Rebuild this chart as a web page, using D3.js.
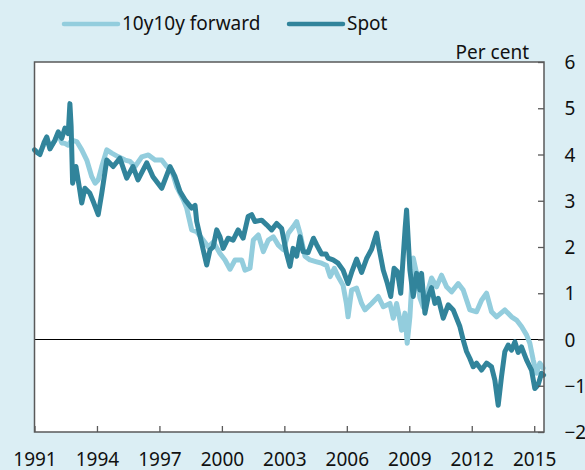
<!DOCTYPE html>
<html>
<head>
<meta charset="utf-8">
<script src="https://cdn.jsdelivr.net/npm/d3@7"></script>
<style>
  body { margin: 0; background: #dbeef4; }
  svg { display: block; font-family: "Noto Sans", sans-serif; }
</style>
</head>
<body>
<script>
// year values, [decimal year, per cent]
var forward = [
  [1991.00, 4.10], [1991.26, 4.02], [1991.59, 4.35], [1991.74, 4.15], [1991.98, 4.30],
  [1992.14, 4.45], [1992.31, 4.25], [1992.46, 4.24], [1992.62, 4.20], [1992.79, 4.31],
  [1993.03, 4.28], [1993.27, 4.10], [1993.51, 3.88], [1993.75, 3.52], [1993.91, 3.38],
  [1994.06, 3.45], [1994.23, 3.74], [1994.47, 4.10], [1994.71, 4.03], [1995.03, 3.95],
  [1995.35, 3.88], [1995.59, 3.85], [1995.83, 3.74], [1996.15, 3.95], [1996.47, 3.99],
  [1996.79, 3.88], [1997.11, 3.88], [1997.35, 3.74], [1997.59, 3.66], [1997.83, 3.30],
  [1998.15, 3.02], [1998.31, 2.84], [1998.55, 2.37], [1998.79, 2.33], [1999.10, 2.15],
  [1999.35, 2.00], [1999.59, 2.11], [1999.91, 1.86], [2000.15, 1.72], [2000.39, 1.52],
  [2000.63, 1.72], [2000.95, 1.72], [2001.11, 1.50], [2001.35, 1.54], [2001.51, 2.15],
  [2001.75, 2.26], [2001.99, 1.90], [2002.23, 2.15], [2002.47, 2.22], [2002.71, 2.04],
  [2002.95, 1.94], [2003.19, 2.30], [2003.43, 2.44], [2003.59, 2.55], [2003.75, 2.30],
  [2003.99, 1.80], [2004.23, 1.72], [2004.55, 1.68], [2004.79, 1.65], [2005.03, 1.60],
  [2005.20, 1.36], [2005.40, 1.54], [2005.58, 1.36], [2005.82, 1.17], [2005.98, 0.78],
  [2006.06, 0.49], [2006.23, 1.07], [2006.47, 1.11], [2006.71, 0.78], [2006.87, 0.64],
  [2007.19, 0.78], [2007.51, 0.93], [2007.75, 0.71], [2008.07, 0.78], [2008.23, 0.46],
  [2008.39, 0.78], [2008.55, 0.42], [2008.63, 0.20], [2008.79, 0.57], [2008.90, -0.08],
  [2009.03, 0.49], [2009.19, 1.76], [2009.35, 1.43], [2009.51, 0.90], [2009.67, 0.70],
  [2009.83, 0.95], [2010.07, 1.33], [2010.31, 1.14], [2010.55, 1.39], [2010.79, 1.14],
  [2011.03, 1.03], [2011.35, 1.21], [2011.59, 1.07], [2011.91, 0.64], [2012.23, 0.60],
  [2012.47, 0.85], [2012.71, 1.00], [2012.95, 0.60], [2013.19, 0.49], [2013.59, 0.64],
  [2013.91, 0.49], [2014.15, 0.42], [2014.39, 0.28], [2014.63, 0.10], [2014.79, -0.08],
  [2014.95, -0.44], [2015.11, -0.73], [2015.27, -0.51], [2015.43, -0.62]
];

var spot = [
  [1991.00, 4.10], [1991.10, 4.05], [1991.26, 4.00], [1991.45, 4.25], [1991.59, 4.38],
  [1991.74, 4.12], [1991.98, 4.31], [1992.14, 4.49], [1992.31, 4.35], [1992.46, 4.57],
  [1992.62, 4.45], [1992.70, 5.10], [1992.76, 4.60], [1992.83, 3.38], [1992.99, 3.74],
  [1993.15, 3.30], [1993.27, 2.95], [1993.42, 3.27], [1993.66, 3.16], [1993.85, 2.95],
  [1994.06, 2.70], [1994.23, 3.16], [1994.47, 3.88], [1994.78, 3.74], [1995.10, 3.92],
  [1995.43, 3.49], [1995.73, 3.74], [1995.97, 3.45], [1996.39, 3.82], [1996.69, 3.52],
  [1997.11, 3.27], [1997.51, 3.74], [1997.75, 3.52], [1997.99, 3.20], [1998.23, 3.02],
  [1998.55, 2.84], [1998.71, 2.90], [1998.79, 2.55], [1999.03, 2.08], [1999.27, 1.61],
  [1999.43, 1.94], [1999.58, 2.00], [1999.75, 2.37], [1999.91, 2.22], [2000.06, 1.97],
  [2000.30, 2.19], [2000.54, 2.15], [2000.78, 2.37], [2001.02, 2.19], [2001.26, 2.66],
  [2001.43, 2.70], [2001.59, 2.55], [2001.91, 2.58], [2002.15, 2.48], [2002.39, 2.37],
  [2002.63, 2.51], [2002.87, 2.40], [2003.11, 1.85], [2003.27, 1.58], [2003.42, 1.97],
  [2003.59, 1.80], [2003.75, 2.22], [2003.90, 1.90], [2004.14, 1.88], [2004.40, 2.19],
  [2004.55, 2.05], [2004.79, 1.85], [2005.00, 1.85], [2005.10, 1.76], [2005.34, 1.72],
  [2005.58, 1.65], [2005.82, 1.50], [2006.06, 1.21], [2006.23, 1.45], [2006.47, 1.74],
  [2006.71, 1.45], [2006.95, 1.75], [2007.19, 1.95], [2007.43, 2.30], [2007.55, 1.97],
  [2007.75, 1.50], [2007.95, 1.21], [2008.11, 0.93], [2008.27, 1.54], [2008.43, 1.47],
  [2008.59, 1.00], [2008.80, 2.40], [2008.87, 2.80], [2008.95, 2.15], [2009.03, 1.50],
  [2009.19, 0.93], [2009.35, 1.43], [2009.51, 1.07], [2009.59, 1.43], [2009.75, 0.57],
  [2009.91, 0.93], [2010.07, 1.12], [2010.23, 0.78], [2010.39, 0.89], [2010.63, 0.46],
  [2010.87, 0.75], [2011.11, 0.64], [2011.43, 0.28], [2011.59, -0.01], [2011.75, -0.26],
  [2011.91, -0.41], [2012.07, -0.59], [2012.23, -0.51], [2012.47, -0.66], [2012.71, -0.51],
  [2012.95, -0.59], [2013.11, -0.88], [2013.27, -1.42], [2013.43, -0.80], [2013.59, -0.26],
  [2013.75, -0.12], [2013.91, -0.23], [2014.07, -0.05], [2014.23, -0.28], [2014.39, -0.16],
  [2014.63, -0.44], [2014.87, -0.66], [2015.03, -1.06], [2015.19, -0.98], [2015.35, -0.73],
  [2015.45, -0.77]
];

var yearTicks = [1991, 1994, 1997, 2000, 2003, 2006, 2009, 2012, 2015];
var valueTicks = [6, 5, 4, 3, 2, 1, 0, -1, -2];
var seriesNames = ["10y10y forward", "Spot"];
var seriesColors = ["#93cddd", "#31849b"];

var width = 585, height = 470;
var plotLeft = 34.5, plotRight = 544, plotTop = 62, plotBottom = 432;

var svg = d3.select("body").append("svg")
  .attr("width", width)
  .attr("height", height);

svg.append("rect")
  .attr("width", width).attr("height", height)
  .attr("fill", "#dbeef4");

var x = d3.scaleLinear().domain([1991, 2015.47]).range([plotLeft, plotRight]);
var y = d3.scaleLinear().domain([-2, 6]).range([plotBottom, plotTop]);

// plot area
svg.append("rect")
  .attr("x", plotLeft).attr("y", plotTop)
  .attr("width", plotRight - plotLeft).attr("height", plotBottom - plotTop)
  .attr("fill", "white");

// zero line
svg.append("line")
  .attr("x1", plotLeft).attr("x2", plotRight)
  .attr("y1", y(0)).attr("y2", y(0))
  .attr("stroke", "#000").attr("stroke-width", 1.2);

var line = d3.line()
  .x(function(d) { return x(d[0]); })
  .y(function(d) { return y(d[1]); });

[forward, spot].forEach(function(s, i) {
  svg.append("path")
    .datum(s)
    .attr("d", line)
    .attr("fill", "none")
    .attr("stroke", seriesColors[i])
    .attr("stroke-width", 5)
    .attr("stroke-linejoin", "round")
    .attr("stroke-linecap", "round");
});

// axes
var xAxis = d3.axisBottom(x).tickValues(yearTicks).tickSize(-6).tickFormat(d3.format("d"));
var gx = svg.append("g").attr("transform", "translate(0," + plotBottom + ")").call(xAxis);
gx.select(".domain").remove();
gx.selectAll(".tick line").attr("stroke", "#595959").attr("stroke-width", 1.3);
gx.selectAll(".tick text")
  .attr("y", 27).attr("dy", "0.35em")
  .attr("fill", "#111")
  .style("font-size", "19px")
  .style("font-family", "Noto Sans, sans-serif");

var yAxis = d3.axisRight(y).tickValues(valueTicks).tickSize(-6).tickFormat(d3.format("d"));
var gy = svg.append("g").attr("transform", "translate(" + plotRight + ",0)").call(yAxis);
gy.select(".domain").remove();
gy.selectAll(".tick line").attr("stroke", "#595959").attr("stroke-width", 1.3);
gy.selectAll(".tick text")
  .attr("x", 20.5).attr("dy", "0.35em")
  .attr("text-anchor", "start")
  .attr("fill", "#111")
  .style("font-size", "19px")
  .style("font-family", "Noto Sans, sans-serif");

// border
svg.append("rect")
  .attr("x", plotLeft).attr("y", plotTop)
  .attr("width", plotRight - plotLeft).attr("height", plotBottom - plotTop)
  .attr("fill", "none")
  .attr("stroke", "#595959")
  .attr("stroke-width", 1.5);

svg.append("text")
  .attr("x", 529).attr("y", 59)
  .attr("text-anchor", "end")
  .attr("fill", "#111")
  .style("font-size", "19px")
  .text("Per cent");

// legend
var legendX = [64, 289];
seriesNames.forEach(function(name, i) {
  var g = svg.append("g").attr("transform", "translate(" + legendX[i] + ",24)");
  g.append("line")
    .attr("x1", 0).attr("x2", 54)
    .attr("stroke", seriesColors[i])
    .attr("stroke-width", 4.5)
    .attr("stroke-linecap", "round");
  g.append("text")
    .attr("x", 58).attr("y", 6)
    .attr("fill", "#111")
    .style("font-size", "19px")
    .text(name);
});
</script>
</body>
</html>
